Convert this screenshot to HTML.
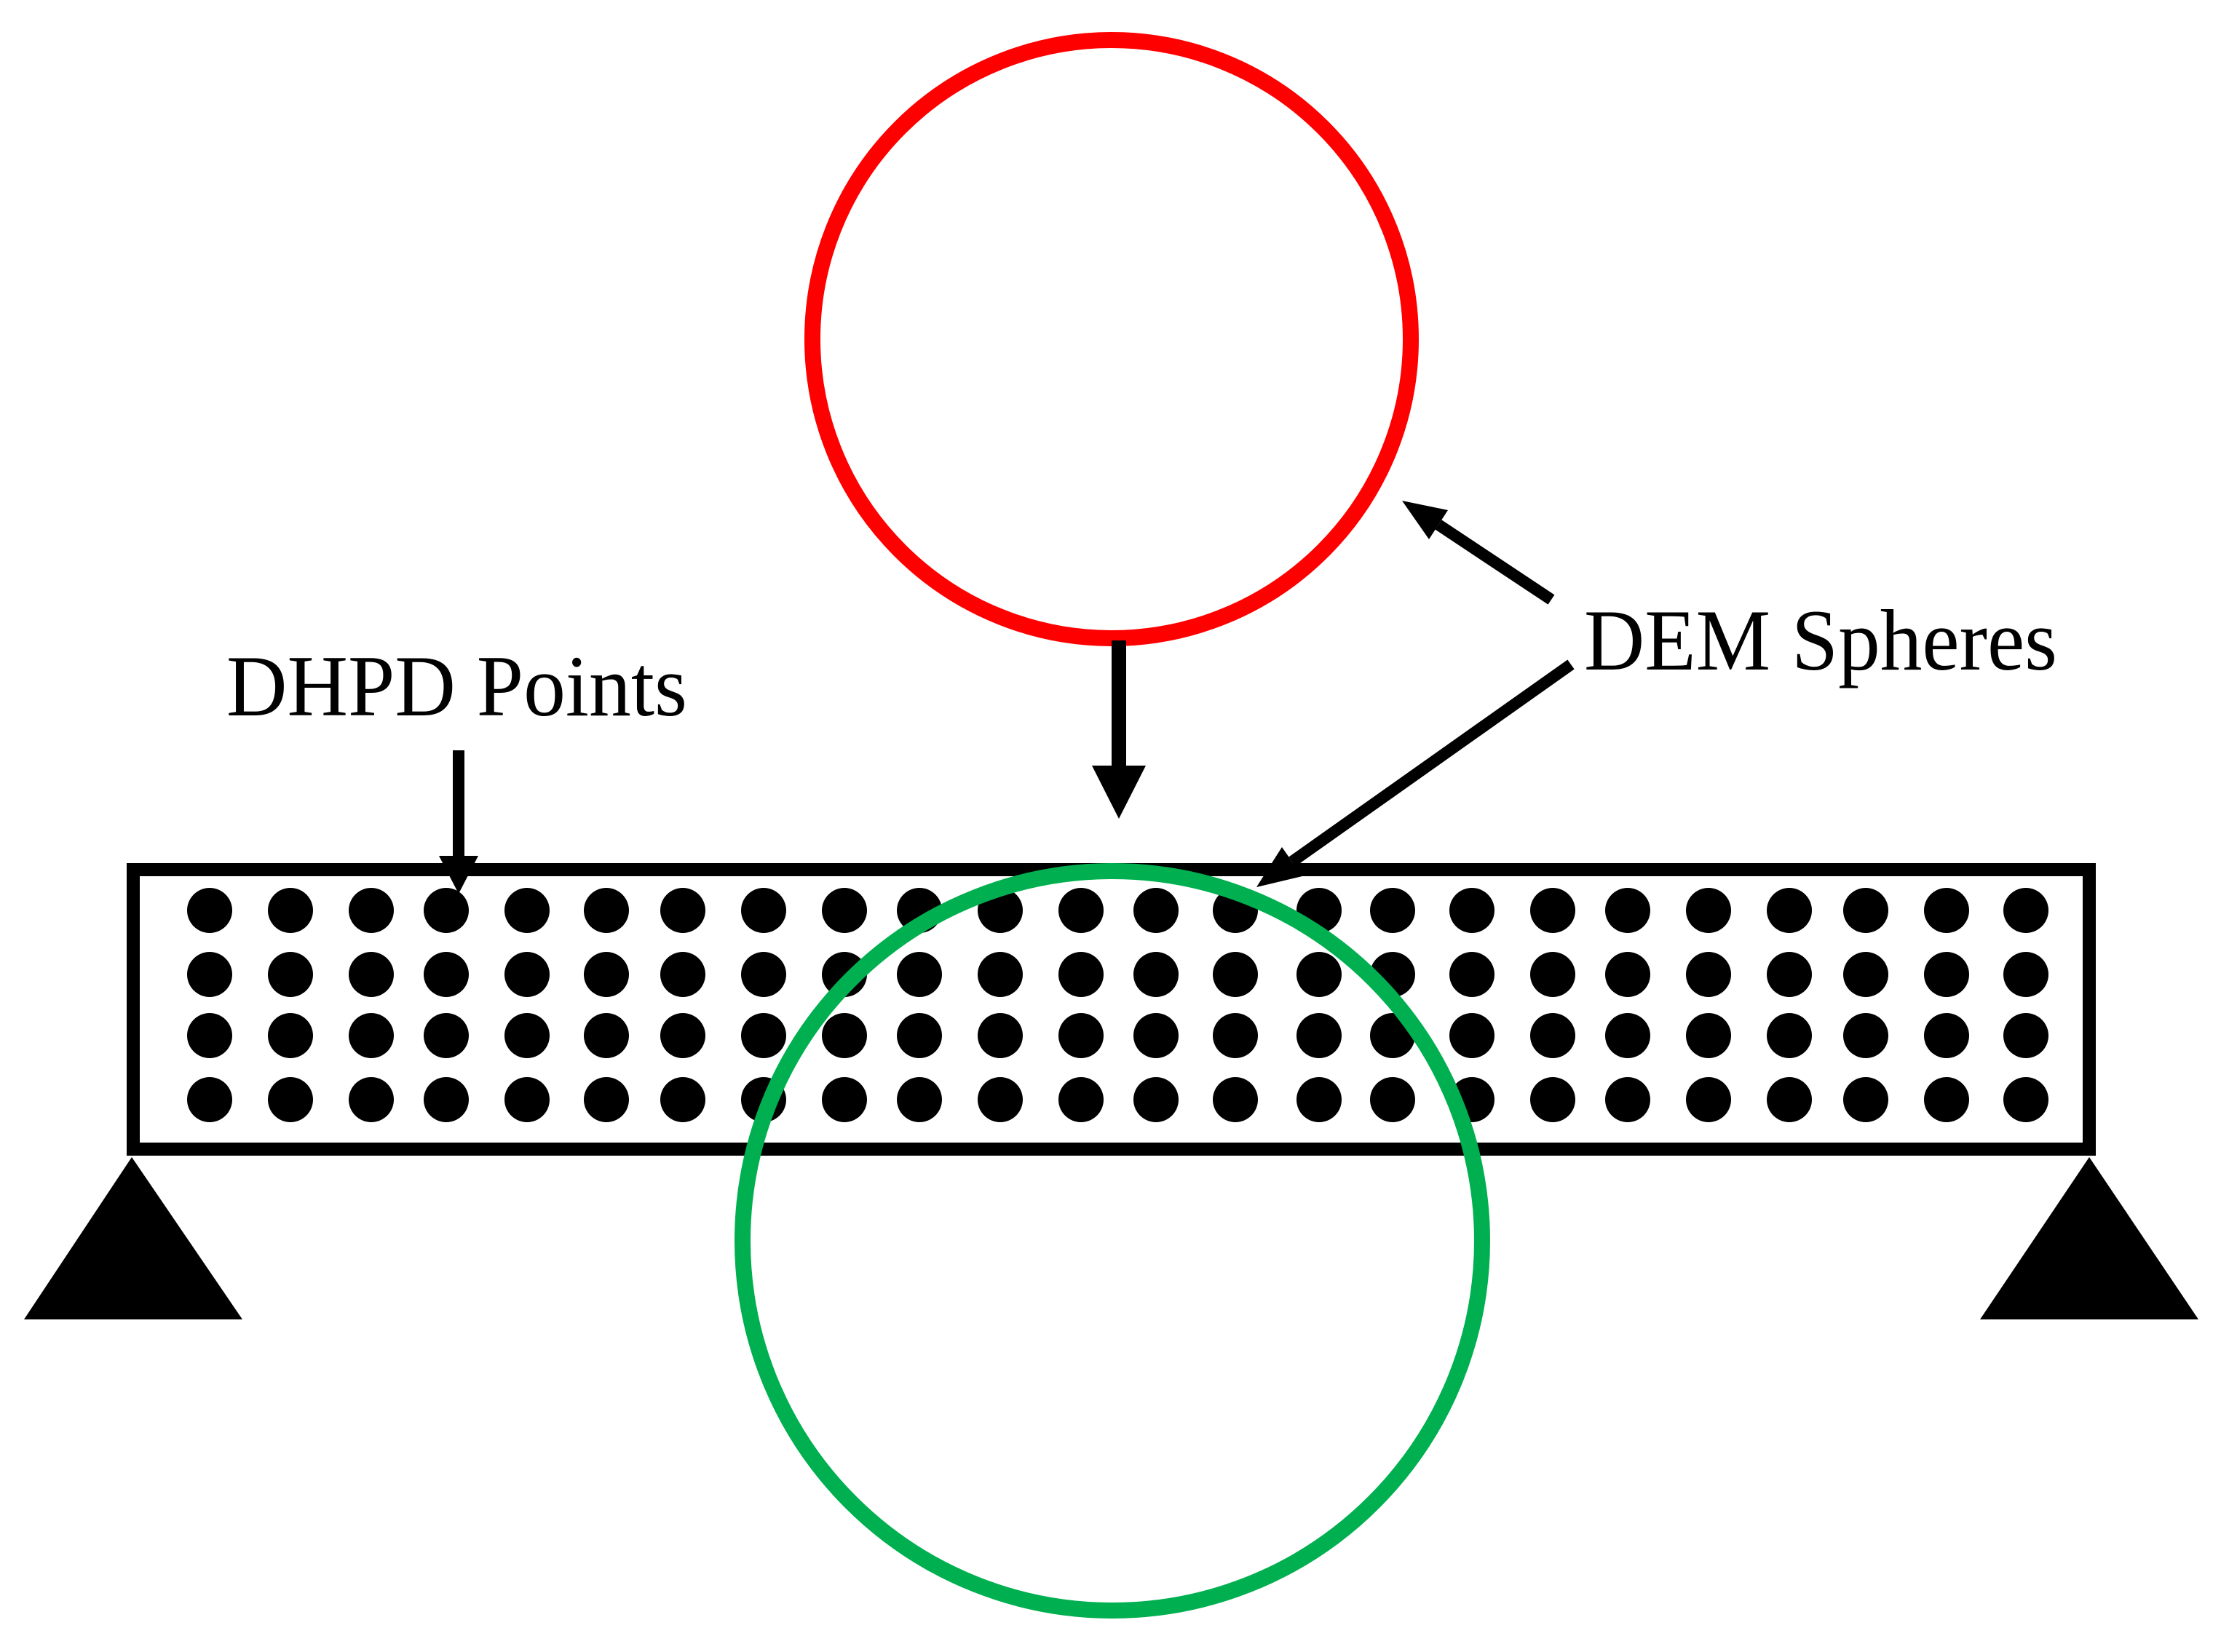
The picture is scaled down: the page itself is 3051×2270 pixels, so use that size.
<!DOCTYPE html>
<html><head><meta charset="utf-8"><style>html,body{margin:0;padding:0;background:#fff}svg{display:block}</style></head>
<body>
<svg width="3051" height="2270" viewBox="0 0 3051 2270" xmlns="http://www.w3.org/2000/svg">
<rect width="3051" height="2270" fill="#fff"/>
<circle cx="1527" cy="466" r="411" fill="none" stroke="#ff0000" stroke-width="22"/>
<rect x="183" y="1195" width="2687" height="384" fill="none" stroke="#000" stroke-width="18"/>
<g fill="#000" id="dots">
</g>
<script>
var xs=[288,399,510,613,724,833,938,1049,1160,1263,1374,1485,1588,1697,1812,1913,2022,2133,2236,2347,2458,2563,2674,2783];
var ys=[1251,1339,1423,1511];var g=document.getElementById('dots');
ys.forEach(function(y){xs.forEach(function(x){var c=document.createElementNS('http://www.w3.org/2000/svg','circle');c.setAttribute('cx',x);c.setAttribute('cy',y);c.setAttribute('r',31);g.appendChild(c);});});
</script>
<circle cx="1528" cy="1705" r="508" fill="none" stroke="#00b050" stroke-width="22"/>
<polygon points="181,1590 33,1813 333,1813" fill="#000"/>
<polygon points="2870,1590 2720,1813 3020,1813" fill="#000"/>
<line x1="1537" y1="880" x2="1537" y2="1060" stroke="#000" stroke-width="20"/>
<polygon points="1500,1052 1574,1052 1537,1125" fill="#000"/>
<line x1="630" y1="1031" x2="630" y2="1180" stroke="#000" stroke-width="16"/>
<polygon points="603,1176 657,1176 630,1228" fill="#000"/>
<line x1="2131" y1="824" x2="1976" y2="721" stroke="#000" stroke-width="16"/>
<polygon points="1926,688 1989,701 1963,741" fill="#000"/>
<line x1="2158" y1="913" x2="1775" y2="1184" stroke="#000" stroke-width="16"/>
<polygon points="1726,1219 1761,1164 1789,1204" fill="#000"/>
<text x="2176" y="920" font-family="Liberation Serif, serif" font-size="120" textLength="650" lengthAdjust="spacingAndGlyphs" fill="#000">DEM Spheres</text>
<text x="311" y="983" font-family="Liberation Serif, serif" font-size="120" textLength="633" lengthAdjust="spacingAndGlyphs" fill="#000">DHPD Points</text>
</svg>
</body></html>
